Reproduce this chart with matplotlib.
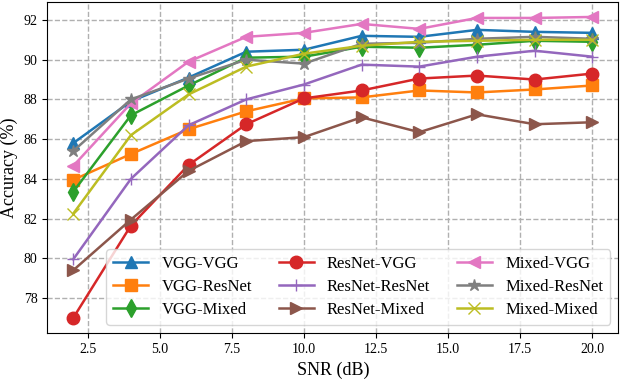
import matplotlib
matplotlib.use("Agg")
import matplotlib.pyplot as plt

plt.rcParams["font.family"] = ["Liberation Serif", "DejaVu Serif"]

snr = [2, 4, 6, 8, 10, 12, 14, 16, 18, 20]

vgg_vgg = [85.8, 87.9, 89.1, 90.4, 90.5, 91.2, 91.15, 91.5, 91.4, 91.35]
vgg_resnet = [83.95, 85.25, 86.5, 87.4, 88.05, 88.1, 88.45, 88.35, 88.5, 88.7]
vgg_mixed = [83.35, 87.2, 88.7, 90.1, 90.15, 90.65, 90.6, 90.75, 90.95, 90.9]
resnet_vgg = [77.0, 81.65, 84.7, 86.75, 88.05, 88.45, 89.05, 89.2, 89.0, 89.3]
resnet_resnet = [79.95, 84.0, 86.7, 88.0, 88.75, 89.75, 89.65, 90.15, 90.45, 90.15]
resnet_mixed = [79.4, 81.95, 84.4, 85.9, 86.1, 87.1, 86.35, 87.25, 86.75, 86.85]
mixed_vgg = [84.65, 87.8, 89.9, 91.15, 91.35, 91.8, 91.55, 92.1, 92.1, 92.15]
mixed_resnet = [85.4, 88.0, 89.05, 90.0, 89.8, 90.8, 90.85, 91.05, 91.15, 91.05]
mixed_mixed = [82.25, 86.2, 88.25, 89.65, 90.3, 90.7, 90.9, 90.95, 91.0, 91.0]

series = [
    ("VGG-VGG", vgg_vgg, "^"),
    ("VGG-ResNet", vgg_resnet, "s"),
    ("VGG-Mixed", vgg_mixed, "d"),
    ("ResNet-VGG", resnet_vgg, "o"),
    ("ResNet-ResNet", resnet_resnet, "+"),
    ("ResNet-Mixed", resnet_mixed, ">"),
    ("Mixed-VGG", mixed_vgg, "<"),
    ("Mixed-ResNet", mixed_resnet, "*"),
    ("Mixed-Mixed", mixed_mixed, "x"),
]

fig, ax = plt.subplots(figsize=(6.22, 3.81), dpi=100)
for i, (name, vals, mk) in enumerate(series):
    ax.plot(snr, vals, marker=mk, color=f"C{i}", label=name,
            linewidth=1.8, markersize=9)

ax.grid(True, linestyle="--", color="#b0b0b0", linewidth=1)
ax.set_xlabel("SNR (dB)", fontsize=13)
ax.set_ylabel("Accuracy (%)", fontsize=13)
ax.tick_params(labelsize=10)
ax.legend(ncol=3, loc="lower right", fontsize=12, columnspacing=1.6,
          handlelength=2.1, labelspacing=0.42)

fig.subplots_adjust(left=0.076, right=0.994, bottom=0.126, top=0.995)
fig.savefig("out.png")
